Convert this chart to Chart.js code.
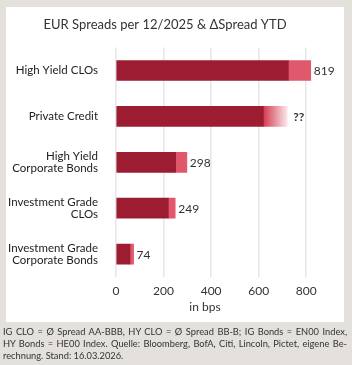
<!DOCTYPE html>
<html>
<head>
<meta charset="utf-8">
<script src="https://cdn.jsdelivr.net/npm/chart.js@4"></script>
<style>
  body { margin: 0; background: #e4e1dc; width: 352px; height: 365px; overflow: hidden; font-family: Lato, sans-serif; }
  #panel { position: absolute; left: 6px; top: 7px; width: 338px; height: 315px; background: #fff; }
  #wrap { position: absolute; left: 0; top: 0; width: 352px; height: 365px; }
  #note { position: absolute; left: 3px; top: 326px; width: 344px; font-size: 9.3px; line-height: 12px; color: #333; }
  #note span { display: block; white-space: nowrap; text-align: justify; text-align-last: justify; }
  #note span.last { text-align-last: left; }
</style>
</head>
<body>
<div id="panel"></div>
<div id="wrap"><canvas id="spreadChart" width="352" height="365"></canvas></div>
<div id="note">
  <span>IG CLO = Ø Spread AA-BBB, HY CLO = Ø Spread BB-B; IG Bonds = EN00 Index,</span>
  <span>HY Bonds = HE00 Index. Quelle: Bloomberg, BofA, Citi, Lincoln, Pictet, eigene Be-</span>
  <span class="last">rechnung. Stand: 16.03.2026.</span>
</div>
<script>
// spreads per 12/2025 and change year to date (bps)
var categories = [
    ["High Yield CLOs"],
    ["Private Credit"],
    ["High Yield", "Corporate Bonds"],
    ["Investment Grade", "CLOs"],
    ["Investment Grade", "Corporate Bonds"]
];
var spreadEnd2025 = [725, 620, 251, 220, 59];
var spreadYtd = [94, 100, 47, 29, 15];
var totalLabels = ["819", "??", "298", "249", "74"];
var xTicks = [0, 200, 400, 600, 800];

const darkRed = '#9c1c31';
const lightRed = '#e0586b';

// writes the total next to each bar
const totalsPlugin = {
    id: 'totals',
    afterDatasetsDraw(chart) {
        const ctx = chart.ctx;
        const meta = chart.getDatasetMeta(1);
        ctx.save();
        ctx.textBaseline = 'middle';
        meta.data.forEach((bar, i) => {
            const unknown = totalLabels[i] === '??';
            ctx.font = (unknown ? 'bold ' : '') + '12px Lato';
            ctx.fillStyle = '#333';
            ctx.fillText(totalLabels[i], bar.x + (unknown ? 6 : 3), bar.y + 1);
        });
        // axis caption
        ctx.font = '12px Lato';
        ctx.textAlign = 'center';
        ctx.fillText('in bps', 205, 307);
        ctx.restore();
    }
};

const ctx = document.getElementById('spreadChart').getContext('2d');
var myChart = new Chart(ctx, {
    type: 'bar',
    data: {
        labels: categories,
        datasets: [{
            label: 'Spread 12/2025',
            data: spreadEnd2025,
            backgroundColor: darkRed,
            barThickness: 20
        }, {
            label: 'ΔSpread YTD',
            data: spreadYtd,
            barThickness: 20,
            backgroundColor: function(c) {
                if (c.dataIndex !== 1) return lightRed;
                const chart = c.chart;
                if (!chart.chartArea) return lightRed;
                const xs = chart.scales.x;
                const x0 = xs.getPixelForValue(spreadEnd2025[1]);
                const x1 = xs.getPixelForValue(spreadEnd2025[1] + spreadYtd[1]);
                const g = chart.ctx.createLinearGradient(x0, 0, x1, 0);
                g.addColorStop(0, 'rgba(210,60,80,1)');
                g.addColorStop(1, 'rgba(250,230,234,1)');
                return g;
            }
        }]
    },
    options: {
        indexAxis: 'y',
        responsive: false,
        animation: false,
        layout: { padding: { top: 17, right: 22, left: 0, bottom: 0 } },
        plugins: {
            legend: { display: false },
            tooltip: { enabled: false },
            title: {
                display: true,
                text: 'EUR Spreads per 12/2025 & ΔSpread YTD',
                color: '#333',
                font: { family: 'Lato', size: 13, weight: 'normal' },
                padding: { top: 0, bottom: 15 }
            }
        },
        scales: {
            x: {
                stacked: true,
                min: 0,
                max: 900,
                afterBuildTicks: function(scale) {
                    scale.ticks = xTicks.map(v => ({ value: v }));
                },
                afterFit: function(scale) { scale.height = 88; },
                grid: { color: '#e6e6e6', lineWidth: 1.5, drawTicks: false },
                border: { display: false },
                ticks: { color: '#333', padding: 7, font: { family: 'Lato', size: 12 } }
            },
            y: {
                stacked: true,
                afterFit: function(scale) { scale.width = 116; },
                grid: { display: false },
                border: { display: false },
                ticks: { color: '#222', padding: 10, font: { family: 'Lato', size: 11.5, lineHeight: 1.08 } }
            }
        }
    },
    plugins: [totalsPlugin]
});
</script>
</body>
</html>
